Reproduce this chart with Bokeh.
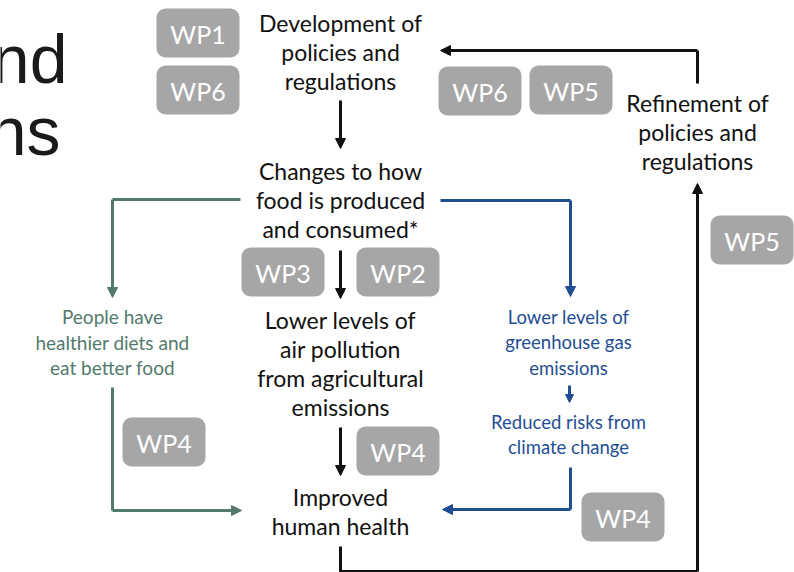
from bokeh.plotting import figure
from bokeh.models import Range1d, Arrow, NormalHead, ColumnDataSource
from bokeh.core.properties import value
from bokeh.embed import file_html
from bokeh.resources import INLINE

# ---- content ----
black_labels = [
    ["Development of", "policies and", "regulations"],
    ["Changes to how", "food is produced", "and consumed*"],
    ["Lower levels of", "air pollution", "from agricultural", "emissions"],
    ["Improved", "human health"],
    ["Refinement of", "policies and", "regulations"],
]
black_x = [340, 340, 340, 340, 697]
black_y0 = [22, 170, 319, 496, 102]

green_labels = ["People have", "healthier diets and", "eat better food"]
green_x = 112
green_y0 = 316

blue_labels = [
    ["Lower levels of", "greenhouse gas", "emissions"],
    ["Reduced risks from", "climate change"],
]
blue_x = [568, 568]
blue_y0 = [316, 421]

wp_names = ["WP1", "WP6", "WP6", "WP5", "WP5", "WP3", "WP2", "WP4", "WP4", "WP4"]
wp_left = [156, 156, 438, 529, 710, 241, 356, 122, 356, 581]
wp_top = [8, 65, 66, 65, 215, 247, 247, 417, 426, 492]

title_parts = ["nd", "ns"]

# ---- styles ----
FONT = "Lato"
BLACK = "#111111"
GREEN = "#527a6c"
BLUE = "#1f4e93"
GREY = "#a6a6a6"

W, H = 794, 572
p = figure(width=W, height=H, output_backend="svg", toolbar_location=None,
           x_range=Range1d(0, W), y_range=Range1d(H, 0), min_border=0)
p.axis.visible = False
p.grid.visible = False
p.outline_line_color = None
p.background_fill_color = "white"
p.border_fill_color = "white"

# clipped slide title
p.text(x=[67, 60], y=[58, 130], text=title_parts, text_font=value("Liberation Sans"),
       text_font_size="68px", text_align="right", text_baseline="middle", text_color="#1a1a1a")

# grey WP boxes
bw, bh = 83, 49
src = ColumnDataSource(dict(left=wp_left, right=[l + bw for l in wp_left],
                            top=wp_top, bottom=[t + bh for t in wp_top],
                            cx=[l + bw / 2 for l in wp_left], cy=[t + bh / 2 + 1 for t in wp_top],
                            name=wp_names))
p.quad(left="left", right="right", top="top", bottom="bottom", source=src,
       fill_color=GREY, line_color=None, border_radius=9)
p.text(x="cx", y="cy", text="name", source=src, text_font=value(FONT), text_font_size="25px",
       text_color="white", text_align="center", text_baseline="middle")

def block(lines, x, y0, dy, color, size):
    p.text(x=[x] * len(lines), y=[y0 + i * dy for i in range(len(lines))], text=lines,
           text_font=value(FONT), text_font_size=size, text_color=color,
           text_align="center", text_baseline="middle")

for lines, x, y0 in zip(black_labels, black_x, black_y0):
    block(lines, x, y0, 29, BLACK, "23px")
block(green_labels, green_x, green_y0, 25.5, GREEN, "19px")
for lines, x, y0 in zip(blue_labels, blue_x, blue_y0):
    block(lines, x, y0, 25.5, BLUE, "18.5px")

def path(xs, ys, color, w=3, head=10):
    if len(xs) > 2:
        p.line(xs[:-1], ys[:-1], line_color=color, line_width=w, line_join="miter")
    p.add_layout(Arrow(end=NormalHead(size=head, fill_color=color, line_color=color),
                       x_start=xs[-2], y_start=ys[-2], x_end=xs[-1], y_end=ys[-1],
                       line_color=color, line_width=w))

# black arrows
path([340, 340], [100, 148], BLACK)
path([697, 697, 440], [83, 50, 50], BLACK)
path([340, 340, 697, 697], [546, 571, 571, 183], BLACK)
path([340, 340], [250, 298], BLACK)
path([340, 340], [427, 475], BLACK)
# green
path([240, 112, 112], [199, 199, 297], GREEN)
path([112, 112, 241], [387, 510, 510], GREEN)
# blue
path([440, 570, 570], [200, 200, 296], BLUE)
path([569, 569], [385, 402], BLUE, w=3, head=8)
path([570, 570, 442], [467, 509, 509], BLUE)

open("out.html", "w").write(file_html(p, INLINE))
